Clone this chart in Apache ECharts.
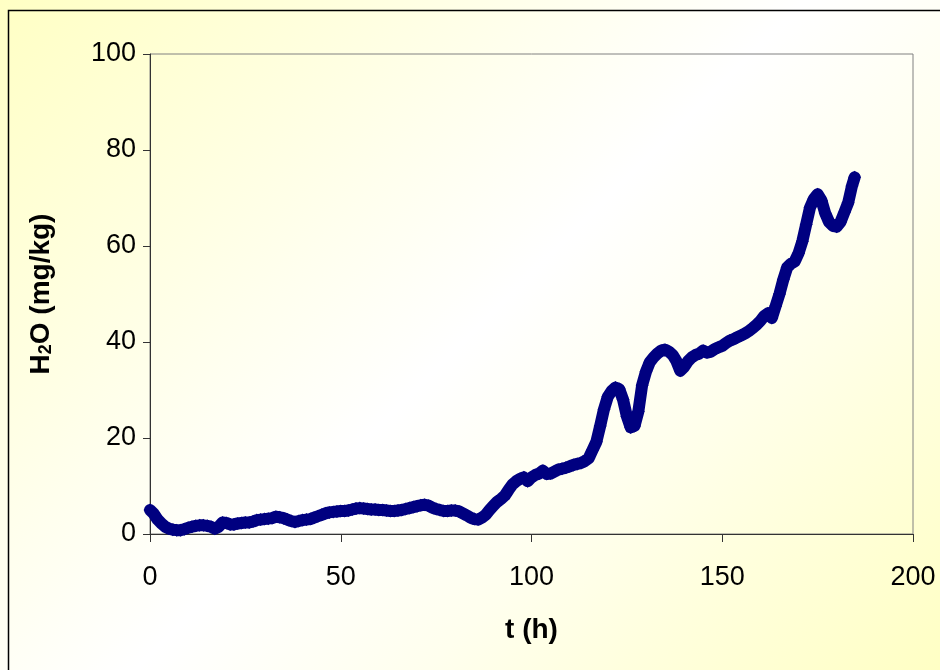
<!DOCTYPE html>
<html>
<head>
<meta charset="utf-8">
<script src="https://cdn.jsdelivr.net/npm/echarts@6/dist/echarts.min.js"></script>
<style>
html,body{margin:0;padding:0;}
#chart{width:940px;height:670px;background:linear-gradient(135deg,#FFFFC4 0%,#FFFFEE 35%,#FFFFFF 50%,#FFFFEE 68%,#FFFFC4 100%);}
</style>
</head>
<body>
<div id="chart"></div>
<script>
// time (h)
var timeH = [0,1,2,3,4,5,6,7,8,9,10,11,12,13,14,15,16,17,18,19,20,21,22,23,24,25,26,27,28,29,30,31,32,33,34,35,36,37,38,39,40,41,42,43,44,45,46,47,48,49,50,51,52,53,54,55,56,57,58,59,60,61,62,63,64,65,66,67,68,69,70,71,72,73,74,75,76,77,78,79,80,81,82,83,84,85,86,87,88,89,90,91,92,93,94,95,96,97,98,99,100,101,102,103,104,105,106,107,108,109,110,111,112,113,114,115,116,117,118,119,120,121,122,123,124,125,126,127,128,129,130,131,132,133,134,135,136,137,138,139,140,141,142,143,144,145,146,147,148,149,150,151,152,153,154,155,156,157,158,159,160,161,162,163,164,165,166,167,168,169,170,171,172,173,174,175,176,177,178,179,180,181,182,183,184,184.7];
// H2O (mg/kg)
var h2o = [5.0,4.2,3.0,2.2,1.5,1.1,0.9,0.8,0.8,1.0,1.3,1.5,1.7,1.8,1.8,1.7,1.5,1.1,1.5,2.4,2.3,2.0,2.0,2.2,2.3,2.4,2.4,2.6,2.9,3.0,3.1,3.2,3.3,3.6,3.5,3.3,3.0,2.7,2.5,2.7,2.9,3.0,3.1,3.4,3.7,4.0,4.3,4.5,4.6,4.7,4.8,4.8,4.9,5.1,5.3,5.4,5.3,5.2,5.1,5.1,5.0,5.0,4.9,4.8,4.8,4.9,5.0,5.2,5.4,5.6,5.8,6.0,6.1,5.9,5.5,5.2,5.0,4.8,4.8,4.9,4.9,4.7,4.3,3.9,3.4,3.1,3.0,3.4,4.0,5.0,5.9,6.7,7.3,8.0,9.2,10.3,11.0,11.5,11.8,11.0,11.8,12.3,12.6,13.2,12.5,12.6,13.0,13.4,13.6,13.8,14.1,14.4,14.6,14.8,15.2,15.8,17.5,19.2,22.5,26.0,28.6,29.8,30.5,30.2,28.0,24.5,22.2,22.5,25.5,31.0,33.8,35.8,36.8,37.6,38.2,38.4,38.0,37.3,36.0,34.0,34.8,36.0,36.8,37.3,37.6,38.2,37.8,38.0,38.5,38.9,39.2,39.8,40.3,40.6,41.0,41.4,41.8,42.3,42.9,43.6,44.4,45.4,46.0,45.0,47.5,50.0,53.0,55.5,56.3,56.8,58.5,61.0,64.5,68.0,69.8,70.8,69.5,66.8,65.0,64.2,64.0,65.0,67.0,69.0,72.5,74.3];
var xTicks = [0,50,100,150,200];
var yTicks = [0,20,40,60,80,100];

var seriesData = timeH.map(function(t,i){return [t,h2o[i]];});
var chart = echarts.init(document.getElementById('chart'));
var font = 'Liberation Sans, Arial, sans-serif';
chart.setOption({
  backgroundColor: 'transparent',
  animation: false,
  graphic: [{
    type: 'rect', z: 100, silent: true,
    shape: {x: 8.5, y: 10.5, width: 960, height: 700},
    style: {fill: 'none', stroke: '#000', lineWidth: 1.5}
  }],
  grid: {left: 150, top: 54, right: 27, bottom: 136, show: true, borderColor: '#808080', borderWidth: 1, backgroundColor: 'transparent'},
  xAxis: {
    type: 'value', min: xTicks[0], max: xTicks[xTicks.length-1], interval: 50,
    name: 't (h)', nameLocation: 'middle', nameGap: 82,
    nameTextStyle: {fontFamily: font, fontSize: 28, fontWeight: 'bold', color: '#000'},
    axisLine: {show: true, onZero: false, lineStyle: {color: '#333', width: 1}},
    axisTick: {show: true, inside: false, length: 8, lineStyle: {color: '#333'}},
    axisLabel: {margin: 30, fontFamily: font, fontSize: 27, color: '#000'},
    splitLine: {show: false}
  },
  yAxis: {
    type: 'value', min: yTicks[0], max: yTicks[yTicks.length-1], interval: 20,
    name: '{n|H}{s|2}{n|O (mg/kg)}', nameLocation: 'middle', nameGap: 95, nameRotate: 90,
    nameTextStyle: {rich: {
      n: {fontFamily: font, fontSize: 28, fontWeight: 'bold', color: '#000'},
      s: {fontFamily: font, fontSize: 18, fontWeight: 'bold', color: '#000', verticalAlign: 'bottom', padding: [10,0,0,0]}
    }},
    axisLine: {show: true, onZero: false, lineStyle: {color: '#333', width: 1}},
    axisTick: {show: true, inside: false, length: 7, lineStyle: {color: '#333'}},
    axisLabel: {margin: 14, fontFamily: font, fontSize: 27, color: '#000'},
    splitLine: {show: false}
  },
  series: [{
    type: 'line',
    data: seriesData,
    symbol: 'diamond',
    symbolSize: 13,
    showAllSymbol: true,
    itemStyle: {color: '#000080'},
    lineStyle: {color: '#000080', width: 12, join: 'round', cap: 'round'},
    z: 3
  }]
});
</script>
</body>
</html>
